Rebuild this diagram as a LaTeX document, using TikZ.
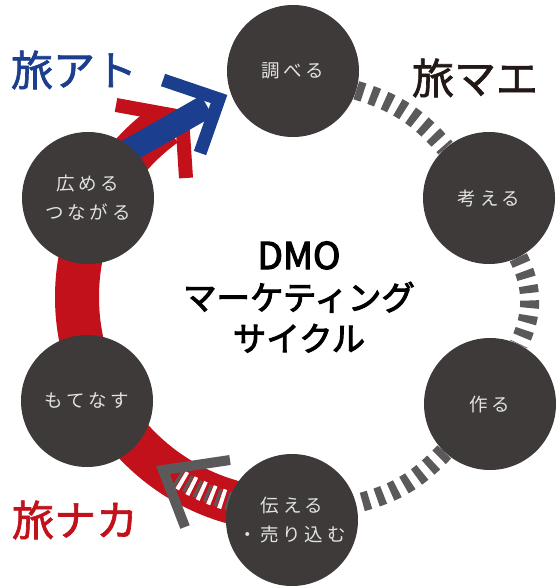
\documentclass[tikz,border=0pt]{standalone}
\usepackage{fontspec}
\newfontfamily\jp[FakeBold=1.5]{Noto Sans CJK JP}
\newfontfamily\jpb[FakeBold=3]{Noto Sans CJK JP}
\newfontfamily\jpsp[LetterSpace=20]{Noto Sans CJK JP}
\usetikzlibrary{backgrounds,calc}
\definecolor{cdark}{HTML}{3E3A39}
\definecolor{cred}{HTML}{C3111C}
\definecolor{cblue}{HTML}{1B3E8E}
\definecolor{cgray}{HTML}{5B595A}
\definecolor{clabel}{HTML}{E2E2E2}
\definecolor{cblack}{HTML}{231815}
\tikzset{
  stage/.style={circle, fill=cdark, minimum size=132pt, inner sep=0pt, text=clabel,
    font=\jpsp\fontsize{18.5}{29}\selectfont, align=center},
  graydash/.style={draw=cgray, line width=19pt, dash pattern=on 7.5pt off 7.5pt},
  redband/.style={draw=cred, line width=44pt},
  redhead/.style={draw=cred, line width=14pt, line join=miter, miter limit=10},
  blueshaft/.style={draw=cblue, line width=24pt},
  bluehead/.style={draw=cblue, line width=13pt, line join=miter, miter limit=10},
  grayhead/.style={draw=cgray, line width=10pt, line join=miter, miter limit=10},
  stripewhite/.style={draw=white, line width=20pt, dash pattern=on 4pt off 7pt, dash phase=7pt},
  stripegray/.style={draw=cgray, line width=18pt, dash pattern=on 3pt off 8pt},
  phase/.style={font=\jp\fontsize{42}{42}\selectfont, inner sep=0pt},
  title/.style={font=\jpb\fontsize{33.5}{41}\selectfont, align=center, text=black}
}
\begin{document}
\begin{tikzpicture}[x=1pt,y=1pt]
\useasboundingbox (0,0) rectangle (559,-586);
\coordinate (C) at (290,-297);
% stages
\node[stage] (s1) at (293,-71) {調べる};
\node[stage] (s2) at (489,-198) {考える};
\node[stage] (s3) at (490,-404) {作る};
\node[stage] (s4) at (292,-520) {伝える\\・売り込む};
\node[stage] (s5) at (87,-401) {もてなす};
\node[stage] (s6) at (88,-198) {広める\\つながる};
% arrow geometry
\coordinate (rtip) at (182,-117);
\coordinate (rarm1) at (116,-105);
\coordinate (rarm2) at (186,-178);
\coordinate (btail) at (123,-154);
\coordinate (bend) at (207,-106);
\coordinate (btip) at (219,-99);
\coordinate (barm1) at (163,-80);
\coordinate (barm2) at (200,-153);
\coordinate (gtip) at (163,-470);
\coordinate (garm1) at (230,-460);
\coordinate (garm2) at (185,-527);
\begin{pgfonlayer}{background}
  \draw[redband] ($(C)+(-92:213)$) arc[start angle=-92, end angle=-234, radius=213];
  \draw[stripewhite] ($(C)+(-122:213)$) arc[start angle=-122, end angle=-102, radius=213];
  \draw[stripegray] ($(C)+(-122:213)$) arc[start angle=-122, end angle=-102, radius=213];
  \draw[grayhead] (garm1) -- (gtip) -- (garm2);
  \draw[redhead] (rarm1) -- (rtip) -- (rarm2);
  \draw[blueshaft] (btail) -- (bend);
  \draw[bluehead] (barm1) -- (btip) -- (barm2);
  \draw[graydash] (s1) to[bend left=16] (s2);
  \draw[graydash] (s2) to[bend left=26] (s3);
  \draw[graydash] (s3) to[bend left=16] (s4);
\end{pgfonlayer}
% phase labels
\node[phase, text=cblue] (tA) at (74,-70) {旅アト};
\node[phase, text=cblack] (tM) at (475,-78) {旅マエ};
\node[phase, text=cred] (tN) at (75,-520) {旅ナカ};
% title
\node[title] (ttl) at (299,-297) {{\fontsize{37}{41}\selectfont DMO}\\マーケティング\\サイクル};
\end{tikzpicture}
\end{document}
